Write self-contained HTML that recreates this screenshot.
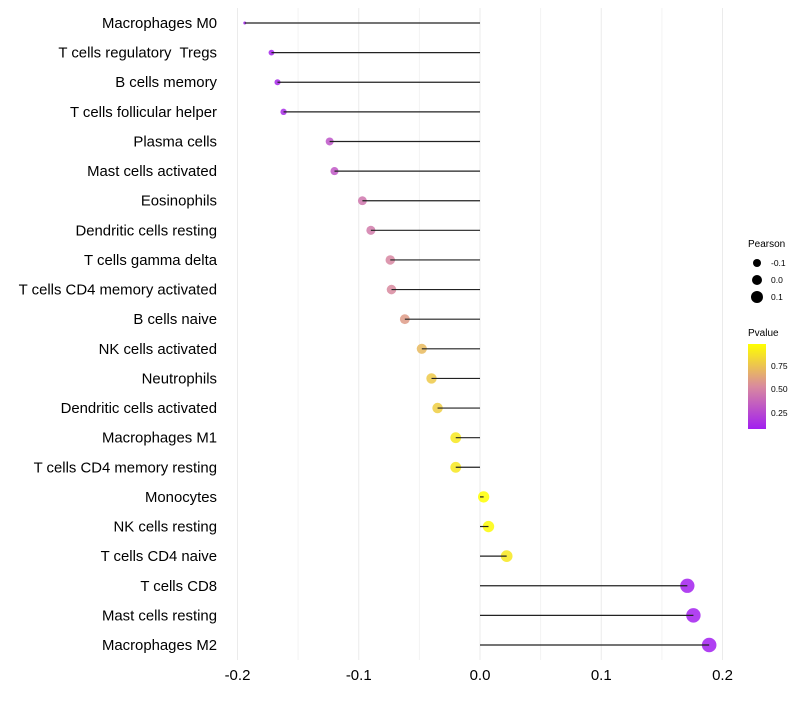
<!DOCTYPE html>
<html><head><meta charset="utf-8"><style>
body{margin:0;background:#fff;font-family:"Liberation Sans",Arial,sans-serif;}
#labels text{white-space:pre;}
</style></head><body>
<svg id="chart" width="800" height="700" xmlns="http://www.w3.org/2000/svg">
<defs><linearGradient id="pg" x1="0" y1="1" x2="0" y2="0">
<stop offset="0" stop-color="#a21ff0"/><stop offset="0.5" stop-color="#d98a9e"/><stop offset="1" stop-color="#ffff00"/></linearGradient></defs>
<g id="grid"></g><g id="dots"></g><g id="stems"></g><g id="labels"></g><g id="xaxis"></g>
<g font-size="10" fill="#000">
<text x="748" y="247">Pearson</text>
<circle cx="757" cy="263" r="4"/><text x="771" y="266" font-size="8.5">-0.1</text>
<circle cx="757" cy="280" r="5"/><text x="771" y="283" font-size="8.5">0.0</text>
<circle cx="757" cy="297" r="6"/><text x="771" y="300" font-size="8.5">0.1</text>
<text x="748" y="336">Pvalue</text>
<rect x="748" y="344" width="18" height="85" fill="url(#pg)"/>
<text x="771" y="369" font-size="8.5">0.75</text>
<text x="771" y="392" font-size="8.5">0.50</text>
<text x="771" y="416" font-size="8.5">0.25</text>
</g>
</svg>
<script>
const cells=["Macrophages M0","T cells regulatory  Tregs","B cells memory","T cells follicular helper","Plasma cells","Mast cells activated","Eosinophils","Dendritic cells resting","T cells gamma delta","T cells CD4 memory activated","B cells naive","NK cells activated","Neutrophils","Dendritic cells activated","Macrophages M1","T cells CD4 memory resting","Monocytes","NK cells resting","T cells CD4 naive","T cells CD8","Mast cells resting","Macrophages M2"];
const pearson=[-0.194,-0.172,-0.167,-0.162,-0.124,-0.120,-0.097,-0.090,-0.074,-0.073,-0.062,-0.048,-0.040,-0.035,-0.020,-0.020,0.003,0.007,0.022,0.171,0.176,0.189];
const pvalue=[0.08,0.10,0.12,0.13,0.30,0.32,0.45,0.47,0.52,0.53,0.60,0.72,0.78,0.80,0.90,0.90,0.99,0.97,0.90,0.09,0.09,0.08];
const xticks=[-0.2,-0.1,0,0.1,0.2];
const xtickLabels=["-0.2","-0.1","0.0","0.1","0.2"];
const minorTicks=[-0.15,-0.05,0.05,0.15];
const NS="http://www.w3.org/2000/svg";
const X=v=>480+v*1212.5;
const Y=i=>23+i*(622/21);
const pmin=Math.min(...pearson),pmax=Math.max(...pearson);
const R=v=>1.5+5.8*Math.sqrt((v-pmin)/(pmax-pmin));
function mk(t,a,p){const e=document.createElementNS(NS,t);for(const k in a)e.setAttribute(k,a[k]);p.appendChild(e);return e;}
function lerp(a,b,t){return a.map((v,i)=>Math.round(v+(b[i]-v)*t));}
function col(p){const t=Math.max(0,Math.min(1,(p-0.08)/0.91));const lo=[162,31,240],mid=[217,138,158],hi=[255,255,0];
const c=t<0.5?lerp(lo,mid,t*2):lerp(mid,hi,(t-0.5)*2);return `rgb(${c})`;}
const grid=document.getElementById('grid'),dots=document.getElementById('dots'),stems=document.getElementById('stems'),labels=document.getElementById('labels'),xa=document.getElementById('xaxis');
minorTicks.forEach(v=>{const l=mk('line',{x1:X(v),x2:X(v),y1:8,y2:660,stroke:'#f3f3f3','stroke-width':1},grid);

});
xticks.forEach((v,i)=>{const l=mk('line',{x1:X(v),x2:X(v),y1:8,y2:660,stroke:'#ebebeb','stroke-width':1},grid);


const t=mk('text',{x:X(v),y:680,'text-anchor':'middle','font-size':15,fill:'#000'},xa);t.textContent=xtickLabels[i];

});
cells.forEach((c,i)=>{const y=Y(i);
const t=mk('text',{x:217,y:y+5,'text-anchor':'end','font-size':14.9,fill:'#000'},labels);t.textContent=c;


const d=mk('circle',{cx:X(pearson[i]),cy:y,r:R(pearson[i]),fill:col(pvalue[i]),'fill-opacity':0.85},dots);


const s=mk('line',{x1:X(0),x2:X(pearson[i]),y1:y,y2:y,stroke:'#222','stroke-width':1.2},stems);

});
</script>
</body></html>
